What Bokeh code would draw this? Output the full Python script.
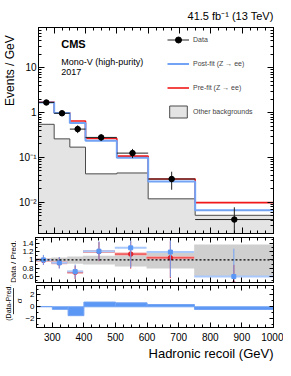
import numpy as np
from bokeh.plotting import figure
from bokeh.layouts import column, row
from bokeh.models import (Label, Legend, LegendItem, Span, LinearAxis, LogAxis,
                          FixedTicker, SingleIntervalTicker, CustomJSTickFormatter,
                          Range1d)
from bokeh.embed import file_html
from bokeh.resources import INLINE

FONT = "Liberation Sans"

# ---------------- data ----------------
bin_edges = [250, 300, 350, 400, 500, 600, 750, 1000]
data_y = [1.69, 0.97, 0.43, 0.28, 0.125, 0.033, 0.0041]
data_lo = [1.52, 0.85, 0.35, 0.235, 0.097, 0.019, 0.0008]
data_hi = [1.87, 1.10, 0.52, 0.33, 0.155, 0.048, 0.0077]
postfit_y = [1.69, 0.98, 0.59, 0.235, 0.099, 0.029, 0.0066]
prefit_y = [1.73, 1.00, 0.65, 0.265, 0.107, 0.033, 0.0098]
other_bkg_y = [0.55, 0.26, 0.17, 0.043, 0.045, 0.0119, 0.0051]

ratio_post = [1.00, 0.93, 0.72, 1.21, 1.29, 1.19, 0.60]
ratio_post_lo = [0.88, 0.79, 0.55, 0.98, 0.81, 0.58, 0.40]
ratio_post_hi = [1.12, 1.07, 0.89, 1.45, 1.60, 1.60, 1.27]
ratio_pre = [0.99, 0.93, 0.70, 1.20, 1.14, 1.05, 0.42]
ratio_pre_lo = [0.88, 0.80, 0.54, 0.97, 0.79, 0.56, 0.28]
ratio_pre_hi = [1.11, 1.06, 0.86, 1.43, 1.45, 1.45, 0.88]
unc_lo = [0.96, 0.94, 0.91, 0.89, 0.84, 0.79, 0.61]
unc_hi = [1.04, 1.06, 1.08, 1.10, 1.11, 1.18, 1.37]

pulls = [0.05, -0.43, -1.5, 0.8, 0.67, 0.38, -0.45]

x_ticks_major = 100
y_main_ticks = [0.01, 0.1, 1, 10]
ratio_ticks = [0.6, 0.8, 1.0, 1.2, 1.4]
pull_ticks = [-2, 0, 2]

# ---------------- layout constants (page pixels) ----------------
FRAME_LEFT = 35          # page x of the frames' left edge
FW = 238                 # frame width
R = 10
TOTAL_W = FRAME_LEFT + FW + R
XMIN, XMAX = 250, 1000
TOP_STRIP = 22
MAIN_TOP, MAIN_H, MAIN_BOT = 5, 206, 2
RAT_TOP, RAT_H, RAT_BOT = 2, 45, 1
SIG_TOP, SIG_H, SIG_BOT = 2, 42, 19
BOT_STRIP = 18
MAIN_FIG_H = MAIN_TOP + MAIN_H + MAIN_BOT
RAT_FIG_H = RAT_TOP + RAT_H + RAT_BOT
SIG_FIG_H = SIG_TOP + SIG_H + SIG_BOT
GUT_MAIN, GUT_RAT, GUT_SIG = 16, 16, 22

YMAIN = (0.002, 80)
YRAT = (0.455, 1.54)
YSIG = (-3.5, 3.6)

BLUE = "#72a3f4"
BLUE_DARK = "#5b97f5"
BLUE_LIGHT = "#a9c8fb"
RED = "#f01818"
PINK = "#f4a3a3"
BKG_FILL = "#e4e4e4"
BKG_LINE = "#4a4a4a"
BAND = "#cfcfcf"

edges = np.array(bin_edges, dtype=float)
centers = 0.5 * (edges[:-1] + edges[1:])
step_x = np.repeat(edges, 2)[1:-1]


def step_y(vals):
    return np.repeat(np.asarray(vals, dtype=float), 2)


BLANK = CustomJSTickFormatter(code="return '';")


def hide_labels(ax):
    ax.formatter = BLANK
    ax.major_label_text_font_size = "1px"
    ax.major_label_standoff = 0


def style_axes(p, xticker, yticker, tick_x, tick_y, ylab_size, yformatter=None,
               show_x=False, log=False):
    xa = p.below[0]
    ya = p.left[0]
    xa.ticker = xticker
    ya.ticker = yticker
    if yformatter is not None:
        ya.formatter = yformatter
    top = LinearAxis(ticker=xticker)
    right = (LogAxis if log else LinearAxis)(ticker=yticker)
    p.add_layout(top, "above")
    p.add_layout(right, "right")
    for ax, (mj, mn) in ((xa, tick_x), (top, tick_x), (ya, tick_y), (right, tick_y)):
        ax.major_tick_in = mj
        ax.major_tick_out = 0
        ax.minor_tick_in = mn
        ax.minor_tick_out = 0
        ax.axis_line_color = "black"
        ax.major_tick_line_color = "black"
        ax.minor_tick_line_color = "black"
        ax.major_label_text_font = FONT
        ax.major_label_text_color = "black"
    hide_labels(top)
    hide_labels(right)
    if show_x:
        xa.major_label_text_font_size = "10px"
        xa.major_label_standoff = 5
    else:
        hide_labels(xa)
    ya.major_label_text_font_size = ylab_size
    ya.major_label_standoff = 2
    p.outline_line_color = "black"
    p.xgrid.visible = False
    p.ygrid.visible = False


def new_fig(gutter, height, yr, top, bot, xr=None, log=False):
    left = FRAME_LEFT - gutter
    kw = dict(width=left + FW + R, height=height, y_range=Range1d(*yr),
              output_backend="svg", toolbar_location=None,
              min_border_left=left, min_border_right=R,
              min_border_top=top, min_border_bottom=bot)
    kw["x_range"] = xr if xr is not None else Range1d(XMIN, XMAX)
    if log:
        kw["y_axis_type"] = "log"
    p = figure(**kw)
    p.background_fill_color = "white"
    p.border_fill_color = "white"
    return p


def strip(width, height):
    """Blank figure whose data units are pixels (y down), used for titles."""
    s = figure(width=width, height=height, x_range=Range1d(0, width),
               y_range=Range1d(height, 0), x_axis_location=None, y_axis_location=None,
               output_backend="svg", toolbar_location=None, min_border_left=0,
               min_border_right=0, min_border_top=0, min_border_bottom=0)
    s.outline_line_color = None
    s.grid.visible = False
    s.background_fill_color = "white"
    s.border_fill_color = "white"
    return s


def label(p, x, y, text, size, **kw):
    p.add_layout(Label(x=x, y=y, text=text, text_font=FONT, text_font_size=size,
                       text_color="black", **kw))


def main_y(py):
    """pixel offset below the main frame top -> data value"""
    lo, hi = np.log10(YMAIN[0]), np.log10(YMAIN[1])
    return 10 ** (hi - py * (hi - lo) / MAIN_H)


def px_x(px):
    """pixel offset right of the frame left edge -> data value"""
    return XMIN + px * (XMAX - XMIN) / FW


# ---------------- main panel ----------------
main = new_fig(GUT_MAIN, MAIN_FIG_H, YMAIN, MAIN_TOP, MAIN_BOT, log=True)
xr = main.x_range

main.varea(x=step_x, y1=np.full(len(step_x), 1e-4), y2=step_y(other_bkg_y),
           fill_color=BKG_FILL)
main.line(step_x, step_y(other_bkg_y), line_color=BKG_LINE, line_width=1)
r_pre = main.line(step_x, step_y(prefit_y), line_color=RED, line_width=1.6)
r_post = main.line(step_x, step_y(postfit_y), line_color=BLUE, line_width=2)
r_hbar = main.segment(x0=edges[:-1], x1=edges[1:], y0=data_y, y1=data_y,
                      line_color="#222222", line_width=1)
main.segment(x0=centers, x1=centers, y0=data_lo, y1=data_hi,
             line_color="#222222", line_width=1)
r_pts = main.scatter(centers, data_y, size=5.5, marker="circle",
                     fill_color="black", line_color="black")
# hidden copy of the background histogram, only used for its legend swatch
r_bkg_leg = main.quad(left=edges[:-1], right=edges[1:], top=other_bkg_y,
                      bottom=YMAIN[0], fill_color=BKG_FILL, line_color=BKG_LINE,
                      line_width=1, visible=False)

main_minor = [m * 10.0 ** e for e in range(-3, 2) for m in range(2, 10)]
log_fmt = CustomJSTickFormatter(code="""
const e = Math.round(Math.log10(tick));
if (e == 0) return '1';
if (e == 1) return '10';
const sup = {'-': '\u207b', '0': '\u2070', '1': '\u00b9', '2': '\u00b2', '3': '\u00b3'};
return '10' + String(e).split('').map(c => sup[c]).join('');
""")
style_axes(main, SingleIntervalTicker(interval=x_ticks_major, num_minor_ticks=4),
           FixedTicker(ticks=y_main_ticks, minor_ticks=main_minor),
           (6, 3), (6, 3), "10px", yformatter=log_fmt, log=True)

legend = Legend(items=[
    LegendItem(label="Data", renderers=[r_hbar, r_pts]),
    LegendItem(label="Post-fit (Z \u2192 ee)", renderers=[r_post]),
    LegendItem(label="Pre-fit (Z \u2192 ee)", renderers=[r_pre]),
    LegendItem(label="Other backgrounds", renderers=[r_bkg_leg]),
], location=(129, 114), border_line_color=None, background_fill_alpha=0,
    label_text_font=FONT, label_text_font_size="7px", glyph_width=22,
    glyph_height=15, label_height=15, spacing=9, padding=0, margin=0,
    label_standoff=4, inactive_fill_alpha=0)
main.add_layout(legend)

label(main, px_x(23), main_y(16), "CMS", "11px", text_font_style="bold",
      text_baseline="middle")
label(main, px_x(23), main_y(34), "Mono-V (high-purity)", "9px", text_baseline="middle")
label(main, px_x(23), main_y(44), "2017", "9px", text_baseline="middle")

# ---------------- ratio panel ----------------
ratio = new_fig(GUT_RAT, RAT_FIG_H, YRAT, RAT_TOP, RAT_BOT, xr=xr)
ratio.varea(x=step_x, y1=step_y(unc_lo), y2=step_y(unc_hi), fill_color=BAND)
ratio.add_layout(Span(location=1.0, dimension="width", line_color="black",
                      line_dash="2 2", line_width=1.3))
ratio.segment(x0=edges[:-1], x1=edges[1:], y0=ratio_pre, y1=ratio_pre,
              line_color=PINK, line_width=3)
ratio.segment(x0=edges[:-1], x1=edges[1:], y0=ratio_pre, y1=ratio_pre,
              line_color=RED, line_width=0.8)
ratio.segment(x0=centers, x1=centers, y0=ratio_pre_lo, y1=ratio_pre_hi,
              line_color=RED, line_width=1)
ratio.scatter(centers, ratio_pre, marker="circle", size=4.5, fill_color="#e0202c",
              line_color="#e0202c")
ratio.segment(x0=edges[:-1], x1=edges[1:], y0=ratio_post, y1=ratio_post,
              line_color=BLUE_LIGHT, line_width=2)
ratio.segment(x0=centers, x1=centers, y0=ratio_post_lo, y1=ratio_post_hi,
              line_color=BLUE, line_width=1)
ratio.scatter(centers, ratio_post, marker="square", size=4, fill_color=BLUE_DARK,
              line_color=BLUE_DARK)

rat_fmt = CustomJSTickFormatter(code=r"return tick.toFixed(1).replace(/\.0$/, '');")
style_axes(ratio, SingleIntervalTicker(interval=x_ticks_major, num_minor_ticks=4),
           FixedTicker(ticks=ratio_ticks, minor_ticks=[0.5, 0.7, 0.9, 1.1, 1.3, 1.5]),
           (5, 3), (4, 2), "8px", yformatter=rat_fmt)

# ---------------- pull panel ----------------
sig = new_fig(GUT_SIG, SIG_FIG_H, YSIG, SIG_TOP, SIG_BOT, xr=xr)
pv = np.asarray(pulls)
sig.quad(left=edges[:-1], right=edges[1:], top=np.maximum(pv, 0), bottom=np.minimum(pv, 0),
         fill_color=BLUE_DARK, line_color=BLUE, line_width=1)
style_axes(sig, SingleIntervalTicker(interval=x_ticks_major, num_minor_ticks=4),
           FixedTicker(ticks=pull_ticks, minor_ticks=[-3, -1, 1, 3]),
           (5, 3), (4, 2), "8px", show_x=True)

# ---------------- title strips / gutters ----------------
top_strip = strip(TOTAL_W, TOP_STRIP)
label(top_strip, FRAME_LEFT + FW, 15, "41.5 fb\u207b\u00b9 (13 TeV)", "11px",
      text_align="right", text_baseline="middle")

bot_strip = strip(TOTAL_W, BOT_STRIP)
label(bot_strip, FRAME_LEFT + FW, 7, "Hadronic recoil (GeV)", "13px",
      text_align="right", text_baseline="middle")

g_main = strip(GUT_MAIN, MAIN_FIG_H)
label(g_main, 2, MAIN_TOP + 3, "Events / GeV", "12px", angle=np.pi / 2,
      text_align="right", text_baseline="top")

g_rat = strip(GUT_RAT, RAT_FIG_H)
label(g_rat, 8, RAT_TOP + 1, "Data / Pred.", "8px", angle=np.pi / 2,
      text_align="right", text_baseline="top")

g_sig = strip(GUT_SIG, SIG_FIG_H)
sig_mid = SIG_TOP + SIG_H / 2
label(g_sig, 4, sig_mid + 1, "(Data-Pred.)", "7px", angle=np.pi / 2,
      text_align="center", text_baseline="top")
g_sig.segment(x0=[13], x1=[13], y0=[sig_mid - 19], y1=[sig_mid + 20],
              line_color="black", line_width=0.8)
label(g_sig, 14, sig_mid, "\u03c3", "8px", angle=np.pi / 2,
      text_align="center", text_baseline="top")

page = column(top_strip, row(g_main, main), row(g_rat, ratio), row(g_sig, sig), bot_strip)
with open("out.html", "w", encoding="utf-8") as f:
    f.write(file_html(page, INLINE))
